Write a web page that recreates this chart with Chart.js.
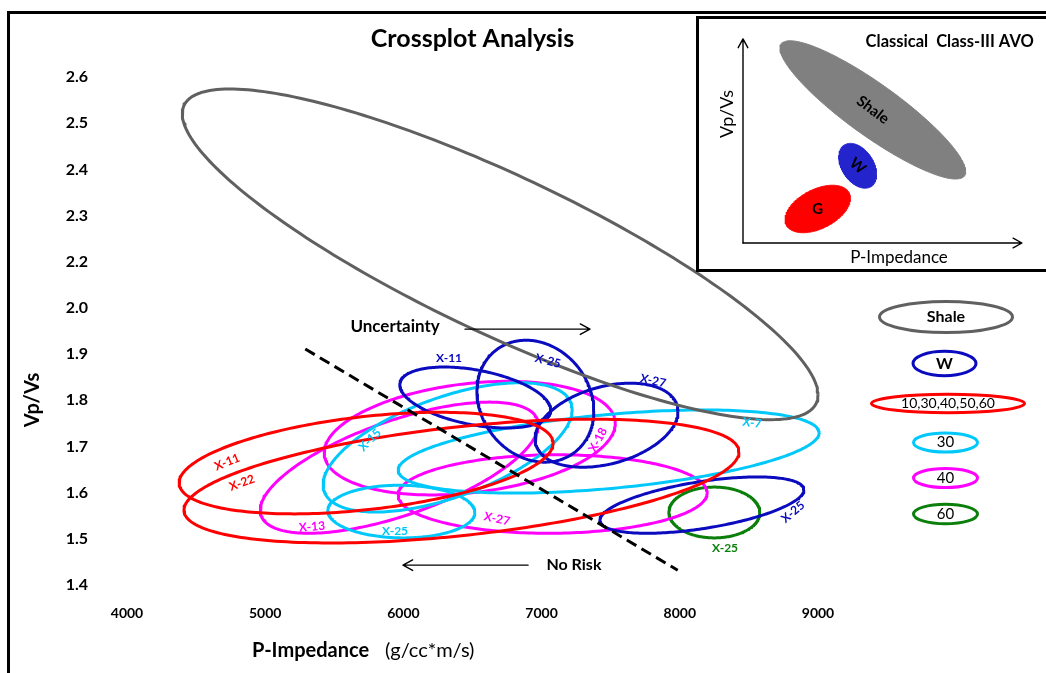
<!DOCTYPE html>
<html lang="en">
<head>
<meta charset="utf-8">
<title>Crossplot Analysis</title>
<script src="https://cdn.jsdelivr.net/npm/chart.js@4.4.1/dist/chart.umd.min.js"></script>
<style>
  html, body { margin: 0; padding: 0; background: #fff; }
  #stage { position: relative; width: 1046px; height: 673px; overflow: hidden; background: #fff; }
  #plot { position: absolute; left: 0; top: 0; }
  #frame { position: absolute; left: 7px; top: 11px; width: 1200px; height: 800px;
           border-left: 3px solid #000; border-top: 3px solid #000; pointer-events: none; }
  #insetBox { position: absolute; left: 696px; top: 16px; width: 400px; height: 250px;
              border: 3px solid #000; background: #fff; }
  #inset { position: absolute; left: 0; top: 0; }
</style>
</head>
<body>
<div id="stage">
  <canvas id="plot" width="1046" height="673"></canvas>
  <div id="frame"></div>
  <div id="insetBox"><canvas id="inset" width="347" height="250"></canvas></div>
</div>
<script>
Chart.defaults.font.family = 'Lato, "DejaVu Sans", sans-serif';
Chart.defaults.color = '#000';

// ---------- axes ----------
const X_TICK_VALUES = [4000, 5000, 6000, 7000, 8000, 9000];
const Y_TICK_VALUES = [1.4, 1.5, 1.6, 1.7, 1.8, 1.9, 2.0, 2.1, 2.2, 2.3, 2.4, 2.5];
const Y_TICK_LABELS = ['1.4', '1.5', '1.6', '1.7', '1.8', '1.9', '2.0', '2.2', '2.3', '2.4', '2.5', '2.6'];

// ---------- crossplot clusters (one ring per well / fluid case) ----------
// centre, half-extent along each axis, and tilt (sine of the phase between x and y)
const RING_NAMES  = ['Shale', 'X-11', 'X-22', 'X-11', 'X-25', 'X-27', 'X-25', 'X-15', 'X-7', 'X-25', 'X-13', 'X-18', 'X-27', 'X-25'];
const RING_GROUPS = ['shale', 'all', 'all', 'w', 'w', 'w', 'w', '30', '30', '30', '40', '40', '40', '60'];
const CENTER_IMP  = [6700, 5730, 6420, 6520, 6955, 7470, 8160, 6320, 7485, 5985, 5970, 6480, 7080, 8250];
const CENTER_VPVS = [2.116, 1.664, 1.625, 1.806, 1.798, 1.746, 1.573, 1.698, 1.689, 1.559, 1.654, 1.718, 1.597, 1.557];
const HALF_IMP    = [2300, 1353, 2008, 546, 423, 517, 738, 901, 1523, 532, 1006, 1053, 1118, 329];
const HALF_VPVS   = [0.358, 0.110, 0.134, 0.066, 0.132, 0.091, 0.061, 0.140, 0.090, 0.057, 0.142, 0.123, 0.085, 0.055];
const TILT        = [-0.85, 0.39, 0.47, -0.41, -0.16, 0.33, 0.54, 0.58, 0.45, -0.03, 0.65, 0.26, 0.03, 0];

// risk boundary (dashed)
const BOUNDARY_IMP  = [5290, 7985];
const BOUNDARY_VPVS = [1.911, 1.432];

// ---------- legend ----------
const LEGEND_GROUPS = ['shale', 'w', 'all', '30', '40', '60'];
const LEGEND_TEXT   = ['Shale', 'W', '10,30,40,50,60', '30', '40', '60'];

// ---------- schematic (classical class-III AVO) ----------
const INSET_NAMES  = ['Shale', 'W', 'G'];
const INSET_CX     = [4.81, 4.25, 2.77];
const INSET_CY     = [4.93, 2.86, 1.26];
const INSET_HALF_X = [3.44, 0.70, 1.21];
const INSET_HALF_Y = [2.56, 0.83, 0.88];
const INSET_TILT   = [-0.89, -0.38, 0.45];

// ---------- styling ----------
const GROUP_COLOR = { shale: '#606060', w: '#0A0ABF', all: '#FF0000', '30': '#00C8FA', '40': '#FF00FF', '60': '#0A7F0A' };
const INSET_FILLS = ['#808080', '#2424CC', '#FF0000'];

// where each ring's well name is written (axis units) and its slant in degrees
const TAG_PLACES = [
  null,
  { x: 4724, y: 1.666, rot: -22 },
  { x: 4832, y: 1.621, rot: -20 },
  { x: 6330, y: 1.892, rot: 0 },
  { x: 7046, y: 1.885, rot: 15 },
  { x: 7806, y: 1.842, rot: 12 },
  { x: 8819, y: 1.558, rot: -40 },
  { x: 5758, y: 1.714, rot: -45 },
  { x: 8522, y: 1.751, rot: 8 },
  { x: 5939, y: 1.517, rot: 0 },
  { x: 5339, y: 1.526, rot: -5 },
  { x: 7408, y: 1.714, rot: -62 },
  { x: 6677, y: 1.543, rot: 12 },
  { x: 8327, y: 1.480, rot: 0 }
];
const NOTES = [
  { text: 'Uncertainty', x: 5940, y: 1.959, font: 'bold 17px Lato' },
  { text: 'No Risk',     x: 7234, y: 1.443, font: 'bold 16px Lato' }
];
const NOTE_ARROWS = [
  { x1: 6446, x2: 7350, y: 1.954 },
  { x1: 6902, x2: 5997, y: 1.443 }
];
const LEGEND_SPOTS = [
  { cx: 946,   cy: 317,   rx: 66.5, ry: 15.5, font: 'bold 16px Lato' },
  { cx: 944.5, cy: 363.5, rx: 31.5, ry: 12.2, font: 'bold 16px Lato' },
  { cx: 948,   cy: 403.5, rx: 76.5, ry: 9.2,  font: '14px Lato' },
  { cx: 945.5, cy: 442.5, rx: 32,   ry: 9.6,  font: '15px Lato' },
  { cx: 945.5, cy: 478,   rx: 32,   ry: 9.6,  font: '15px Lato' },
  { cx: 945.5, cy: 514,   rx: 32,   ry: 9.8,  font: '15px Lato' }
];

// outline of a ring: x = cx + hx cos t, y = cy + hy sin(t + phi)
function ringPoints(cx, cy, hx, hy, tilt) {
  const phi = Math.asin(tilt);
  const pts = [];
  const n = 240;
  for (let k = 0; k <= n; k++) {
    const t = 2 * Math.PI * k / n;
    pts.push({ x: cx + hx * Math.cos(t), y: cy + hy * Math.sin(t + phi) });
  }
  return pts;
}

function arrow(ctx, x1, y1, x2, y2, head, width) {
  const ang = Math.atan2(y2 - y1, x2 - x1);
  ctx.save();
  ctx.strokeStyle = '#000';
  ctx.lineWidth = width;
  ctx.lineCap = 'round';
  ctx.lineJoin = 'round';
  ctx.beginPath();
  ctx.moveTo(x1, y1);
  ctx.lineTo(x2, y2);
  ctx.moveTo(x2 - head * Math.cos(ang - 0.5), y2 - head * Math.sin(ang - 0.5));
  ctx.lineTo(x2, y2);
  ctx.lineTo(x2 - head * Math.cos(ang + 0.5), y2 - head * Math.sin(ang + 0.5));
  ctx.stroke();
  ctx.restore();
}

function label(ctx, text, x, y, font, color, rotDeg, align) {
  ctx.save();
  ctx.translate(x, y);
  if (rotDeg) ctx.rotate(rotDeg * Math.PI / 180);
  ctx.font = font;
  ctx.fillStyle = color;
  ctx.textAlign = align || 'center';
  ctx.textBaseline = 'middle';
  ctx.fillText(text, 0, 0);
  ctx.restore();
}

// ---------- main crossplot ----------
const ringSets = RING_NAMES.map((name, i) => ({
  label: name,
  data: ringPoints(CENTER_IMP[i], CENTER_VPVS[i], HALF_IMP[i], HALF_VPVS[i], TILT[i]),
  showLine: true,
  borderColor: GROUP_COLOR[RING_GROUPS[i]],
  borderWidth: 3,
  pointRadius: 0,
  pointHoverRadius: 0,
  fill: false,
  tension: 0,
  clip: false,
  borderJoinStyle: 'round'
}));

const boundarySet = {
  label: 'boundary',
  data: BOUNDARY_IMP.map((v, i) => ({ x: v, y: BOUNDARY_VPVS[i] })),
  showLine: true,
  borderColor: '#000',
  borderWidth: 3,
  borderDash: [11, 6],
  pointRadius: 0,
  fill: false,
  clip: false,
  order: -1
};

const crossplotDecor = {
  id: 'crossplotDecor',
  afterDatasetsDraw(chart) {
    const ctx = chart.ctx;
    const xs = chart.scales.x, ys = chart.scales.y;
    TAG_PLACES.forEach((p, i) => {
      if (!p) return;
      label(ctx, RING_NAMES[i], xs.getPixelForValue(p.x), ys.getPixelForValue(p.y),
            'bold 12px Lato', GROUP_COLOR[RING_GROUPS[i]], p.rot);
    });
    NOTES.forEach(n => label(ctx, n.text, xs.getPixelForValue(n.x), ys.getPixelForValue(n.y), n.font, '#000', 0));
    NOTE_ARROWS.forEach(a => {
      const yy = ys.getPixelForValue(a.y);
      arrow(ctx, xs.getPixelForValue(a.x1), yy, xs.getPixelForValue(a.x2), yy, 11, 1.4);
    });
  },
  afterDraw(chart) {
    const ctx = chart.ctx;
    // axis titles
    label(ctx, 'Vp/Vs', 33, 400, 'bold 20px Lato', '#000', -90);
    label(ctx, 'P-Impedance', 252, 651, 'bold 20px Lato', '#000', 0, 'left');
    label(ctx, '(g/cc*m/s)', 385, 651, '20px Lato', '#000', 0, 'left');
    // legend
    LEGEND_SPOTS.forEach((s, i) => {
      ctx.save();
      ctx.strokeStyle = GROUP_COLOR[LEGEND_GROUPS[i]];
      ctx.lineWidth = 3;
      ctx.beginPath();
      ctx.ellipse(s.cx, s.cy, s.rx, s.ry, 0, 0, 2 * Math.PI);
      ctx.stroke();
      ctx.restore();
      label(ctx, LEGEND_TEXT[i], s.cx, s.cy, s.font, '#000', 0);
    });
  }
};

new Chart(document.getElementById('plot'), {
  type: 'scatter',
  data: { datasets: [...ringSets, boundarySet] },
  options: {
    responsive: false,
    animation: false,
    devicePixelRatio: 1,
    events: [],
    layout: { padding: { top: 0, right: 228, bottom: 0, left: 0 } },
    plugins: {
      legend: { display: false },
      tooltip: { enabled: false },
      title: {
        display: true,
        text: 'Crossplot Analysis',
        fullSize: false,
        color: '#000',
        font: { family: 'Lato', size: 25, weight: 'bold' },
        padding: { top: 24, bottom: 23 }
      }
    },
    scales: {
      x: {
        type: 'linear',
        min: 4000,
        max: 9000,
        grid: { display: false, drawTicks: false },
        border: { display: false },
        afterBuildTicks: s => { s.ticks = X_TICK_VALUES.map(v => ({ value: v })); },
        afterFit: s => { s.height = 88; },
        ticks: {
          padding: 20, maxRotation: 0, autoSkip: false, color: '#000',
          font: { size: 14, weight: 'bold' },
          callback: v => String(v)
        }
      },
      y: {
        type: 'linear',
        min: 1.4,
        max: 2.5,
        grid: { display: false, drawTicks: false },
        border: { display: false },
        afterBuildTicks: s => { s.ticks = Y_TICK_VALUES.map(v => ({ value: v })); },
        afterFit: s => { s.width = 127; },
        ticks: {
          padding: 39, autoSkip: false, color: '#000',
          font: { size: 16, weight: 'bold' },
          callback: v => Y_TICK_LABELS[Y_TICK_VALUES.findIndex(t => Math.abs(t - v) < 1e-6)]
        }
      }
    }
  },
  plugins: [crossplotDecor]
});

// ---------- schematic inset ----------
const insetDecor = {
  id: 'insetDecor',
  afterDatasetsDraw(chart) {
    const ctx = chart.ctx;
    const xs = chart.scales.x, ys = chart.scales.y;
    const ox = xs.getPixelForValue(0), oy = ys.getPixelForValue(0);
    arrow(ctx, ox, oy, ox, ys.getPixelForValue(7.56), 10, 1.4);
    arrow(ctx, ox, oy, xs.getPixelForValue(10.33), oy, 10, 1.4);
    const rots = [37, 40, 0];
    INSET_NAMES.forEach((n, i) => {
      label(ctx, n, xs.getPixelForValue(INSET_CX[i]), ys.getPixelForValue(INSET_CY[i]),
            'bold 15px Lato', '#000', rots[i]);
    });
    label(ctx, 'Classical  Class-III AVO', 250.7, 22.7, 'bold 16.5px Lato', '#000', 0);
    label(ctx, 'Vp/Vs', 28, 95, '18px Lato', '#000', -90);
    label(ctx, 'P-Impedance', 200, 239, '17px Lato', '#000', 0);
  }
};

new Chart(document.getElementById('inset'), {
  type: 'scatter',
  data: {
    datasets: INSET_NAMES.map((n, i) => ({
      label: n,
      data: ringPoints(INSET_CX[i], INSET_CY[i], INSET_HALF_X[i], INSET_HALF_Y[i], INSET_TILT[i]),
      showLine: true,
      fill: 'shape',
      backgroundColor: INSET_FILLS[i],
      borderColor: INSET_FILLS[i],
      borderWidth: 1,
      pointRadius: 0,
      tension: 0,
      clip: false
    }))
  },
  options: {
    responsive: false,
    animation: false,
    devicePixelRatio: 1,
    events: [],
    layout: { padding: { left: 44, top: 18.8, right: 33, bottom: 26 } },
    plugins: { legend: { display: false }, tooltip: { enabled: false }, title: { display: false } },
    scales: {
      x: { type: 'linear', min: 0, max: 10, display: false },
      y: { type: 'linear', min: 0, max: 7.6, display: false }
    }
  },
  plugins: [insetDecor]
});
</script>
</body>
</html>
